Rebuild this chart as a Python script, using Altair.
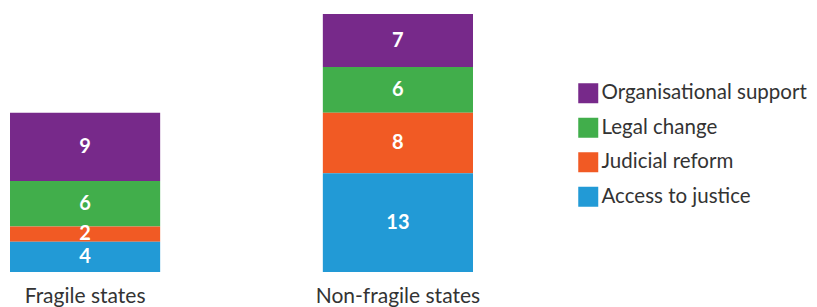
import altair as alt
import pandas as pd

groups = ["Fragile states", "Non-fragile states"]
categories = ["Organisational support", "Legal change", "Judicial reform", "Access to justice"]
colors = ["#77298A", "#41AE4B", "#F15A24", "#229AD6"]
fragile = [9, 6, 2, 4]
non_fragile = [7, 6, 8, 13]

rows = []
for g, vals in zip(groups, [fragile, non_fragile]):
    for i, (c, v) in enumerate(zip(categories, vals)):
        rows.append({"group": g, "category": c, "value": v, "order": len(categories) - i})
df = pd.DataFrame(rows)

FONT = "Lato"

x = alt.X("group:N", sort=groups, title=None,
          scale=alt.Scale(paddingInner=0.52, paddingOuter=0.0064),
          axis=alt.Axis(domain=False, ticks=False, labelAngle=0, labelFontSize=21,
                        labelFont=FONT, labelColor="#333333", labelPadding=13))

bars = alt.Chart(df).mark_bar(stroke=None).encode(
    x=x,
    y=alt.Y("value:Q", stack="zero", axis=None, scale=alt.Scale(domain=[0, 34], nice=False)),
    color=alt.Color("category:N", sort=categories,
                    scale=alt.Scale(domain=categories, range=colors),
                    legend=alt.Legend(title=None, orient="none", legendX=570, legendY=69,
                                      symbolType="square", symbolSize=400, symbolStrokeWidth=0,
                                      labelFontSize=20.5, labelFont=FONT, labelColor="#333333",
                                      rowPadding=13.5, labelOffset=3, padding=0, labelLimit=400)),
    order=alt.Order("order:Q"),
)

labels = alt.Chart(df).transform_stack(
    stack="value", groupby=["group"], as_=["v0", "v1"], sort=[alt.SortField("order")]
).transform_calculate(mid="(datum.v0 + datum.v1) / 2").mark_text(
    color="white", fontSize=20, fontWeight="bold", font=FONT, baseline="middle"
).encode(
    x=alt.X("group:N", sort=groups),
    y=alt.Y("mid:Q"),
    text="value:Q",
)

chart = (bars + labels).properties(
    width=467, height=258,
    background="white",
    autosize=alt.AutoSizeParams(type="none"),
    padding={"left": 0, "top": 6, "right": 334, "bottom": 35},
).configure_view(strokeWidth=0, stroke="transparent")

chart.save("out.html", embed_options={"renderer": "svg", "actions": False})
